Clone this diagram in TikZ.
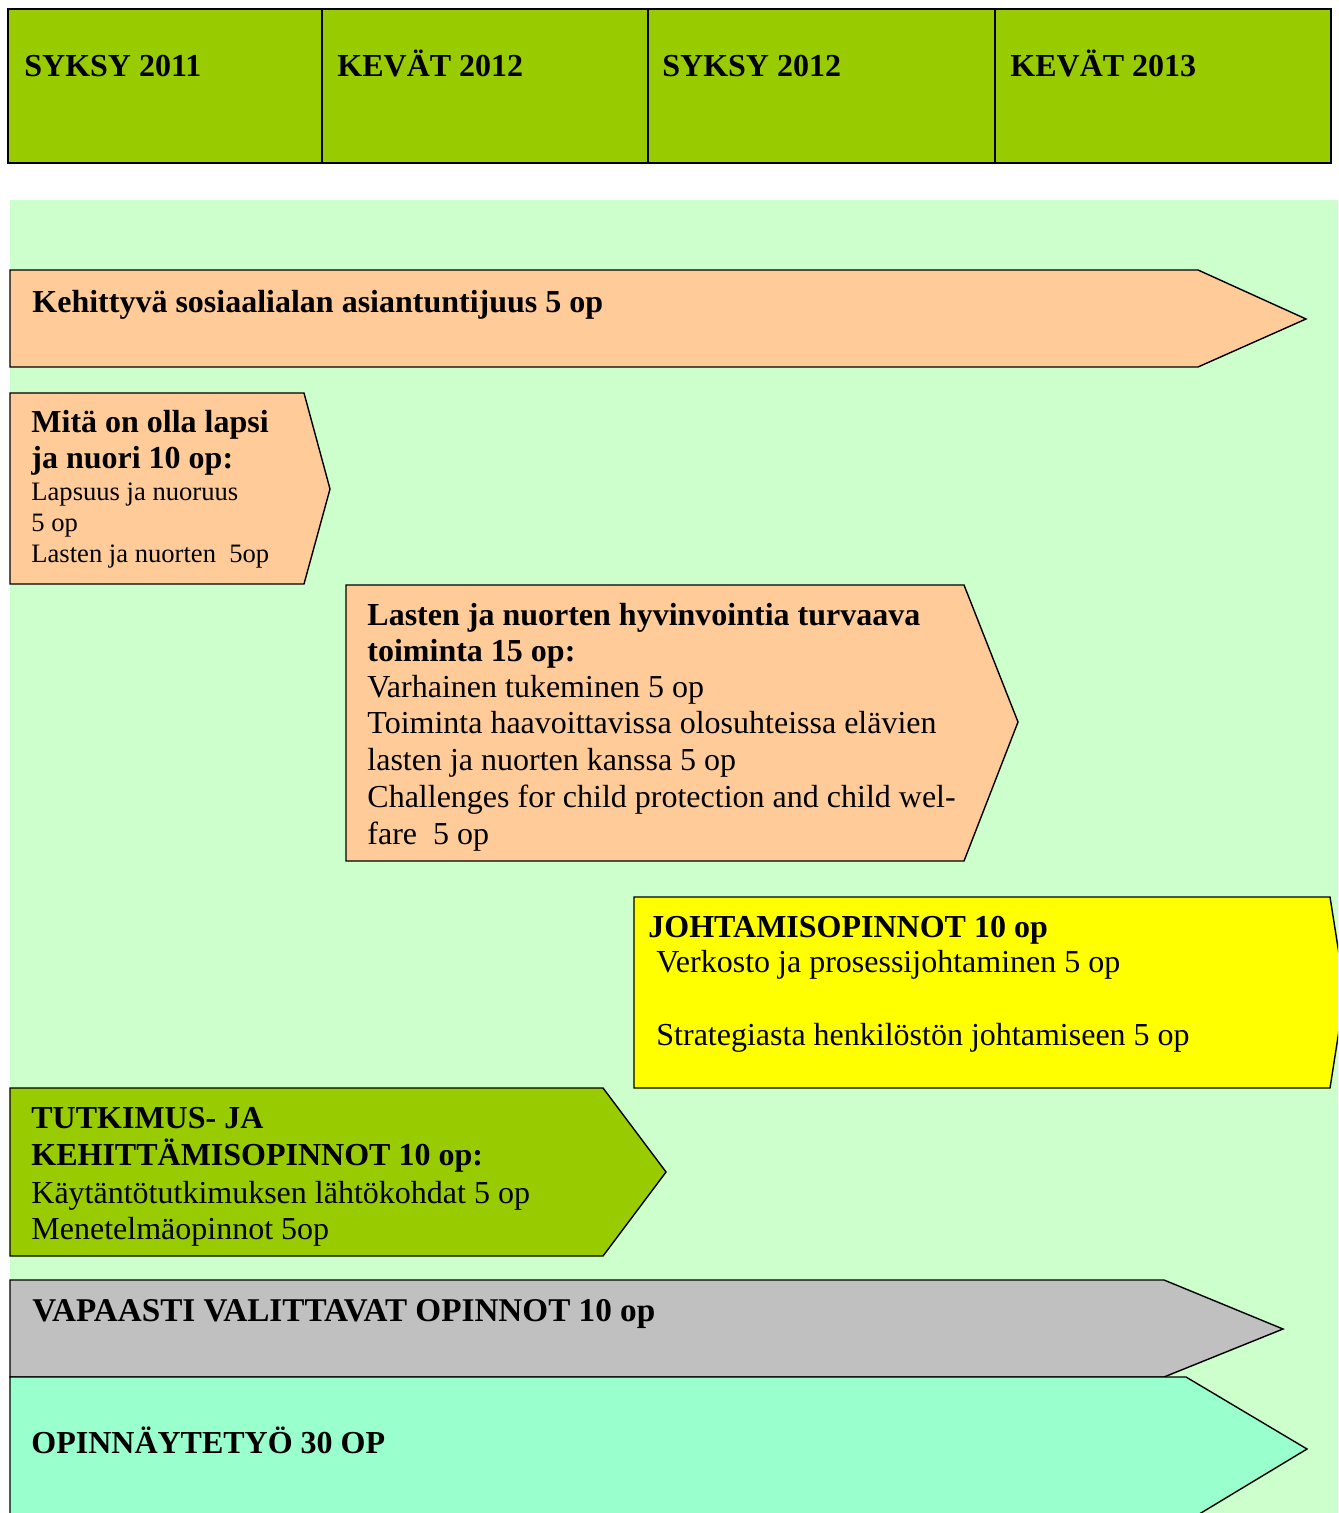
\documentclass[tikz,border=0pt]{standalone}
\usepackage{fontspec}
\setmainfont{Liberation Serif}
\usetikzlibrary{positioning}
\definecolor{termgreen}{HTML}{99CC00}
\definecolor{paleground}{HTML}{CCFFCC}
\definecolor{peach}{HTML}{FFCC99}
\definecolor{mint}{HTML}{99FFCC}
\definecolor{silver}{HTML}{C0C0C0}
\definecolor{lemon}{HTML}{FFFF00}
% lines stacked from the first baseline down
\newcommand{\stack}[1]{\begin{tabular}[t]{@{}l@{}}#1\end{tabular}}
\tikzset{
    term/.style = {draw, line width=1pt, fill=termgreen},
    course/.style = {draw, line width=0.7pt},
    txt/.style = {anchor=base west, inner sep=0pt,
                  font=\fontsize{16}{18.4}\selectfont},
    small/.style = {txt, font=\fontsize{13.3}{15.5}\selectfont},
    head/.style = {txt, font=\fontsize{16}{18.4}\selectfont\bfseries}
}
\begin{document}
\begin{tikzpicture}[x=0.5pt, y=-0.5pt]
    \useasboundingbox (0,0) rectangle (1338,1513);
    \clip (0,0) rectangle (1338,1513);

    % terms
    \draw[term] (8,9) rectangle (322,163);
    \draw[term] (322,9) rectangle (648,163);
    \draw[term] (648,9) rectangle (995,163);
    \draw[term] (995,9) rectangle (1331,163);
    \node[head] (s11) at (24,77) {SYKSY 2011};
    \node[head] (k12) at (337,77) {KEVÄT 2012};
    \node[head] (s12) at (662,77) {SYKSY 2012};
    \node[head] (k13) at (1010,77) {KEVÄT 2013};

    % background
    \fill[paleground] (10,200) rectangle (1340,1515);

    % Kehittyva
    \draw[course, fill=peach] (10,270) -- (1198,270) -- (1306,319) -- (1198,367) -- (10,367) -- cycle;
    \node[head] (keh) at (32,313) {Kehittyvä sosiaalialan asiantuntijuus 5 op};

    % lapsi ja nuori
    \draw[course, fill=peach] (10,393) -- (304,393) -- (330,489) -- (304,584) -- (10,584) -- cycle;
    \node[head] (mita) at (31,432) {\stack{Mitä on olla lapsi\\ja nuori 10 op:}};
    \node[small] (laps) at (31,500) {\stack{Lapsuus ja nuoruus\\5 op\\Lasten ja nuorten\ \ 5op}};

    % hyvinvointi
    \draw[course, fill=peach] (346,585) -- (964,585) -- (1018,722) -- (964,861) -- (346,861) -- cycle;
    \node[head] (hyv) at (367,625) {\stack{Lasten ja nuorten hyvinvointia turvaava\\toiminta 15 op:}};
    \node[txt] (hyvsis) at (367,697) {\stack{Varhainen tukeminen 5 op\\Toiminta haavoittavissa olosuhteissa elävien\\lasten ja nuorten kanssa 5 op\\Challenges for child protection and child wel-\\fare\ \ 5 op}};

    % johtaminen
    \draw[course, fill=lemon] (634,897) -- (1330,897) -- (1345,992) -- (1330,1088) -- (634,1088) -- cycle;
    \node[head] (joht) at (648,937) {JOHTAMISOPINNOT 10 op};
    \node[txt] (verk) at (656,972) {Verkosto ja prosessijohtaminen 5 op};
    \node[txt] (strat) at (656,1045) {Strategiasta henkilöstön johtamiseen 5 op};

    % tutkimus
    \draw[course, fill=termgreen] (10,1088) -- (603,1088) -- (666,1172) -- (603,1256) -- (10,1256) -- cycle;
    \node[head] (tutk) at (31,1128) {\stack{TUTKIMUS- JA\\KEHITTÄMISOPINNOT 10 op:}};
    \node[txt] (tutksis) at (31,1203) {\stack{Käytäntötutkimuksen lähtökohdat 5 op\\Menetelmäopinnot 5op}};

    % vapaat ja opinnaytetyo
    \draw[course, fill=silver] (10,1280) -- (1164,1280) -- (1283,1329) -- (1164,1377) -- (10,1377) -- cycle;
    \node[head, font=\fontsize{16.6}{19}\selectfont\bfseries] (vapa) at (32,1321) {VAPAASTI VALITTAVAT OPINNOT 10 op};
    \draw[course, fill=mint] (10,1377) -- (1186,1377) -- (1307,1449) -- (1186,1522) -- (10,1522) -- cycle;
    \node[head] (opin) at (31,1453) {OPINNÄYTETYÖ 30 OP};
\end{tikzpicture}
\end{document}
